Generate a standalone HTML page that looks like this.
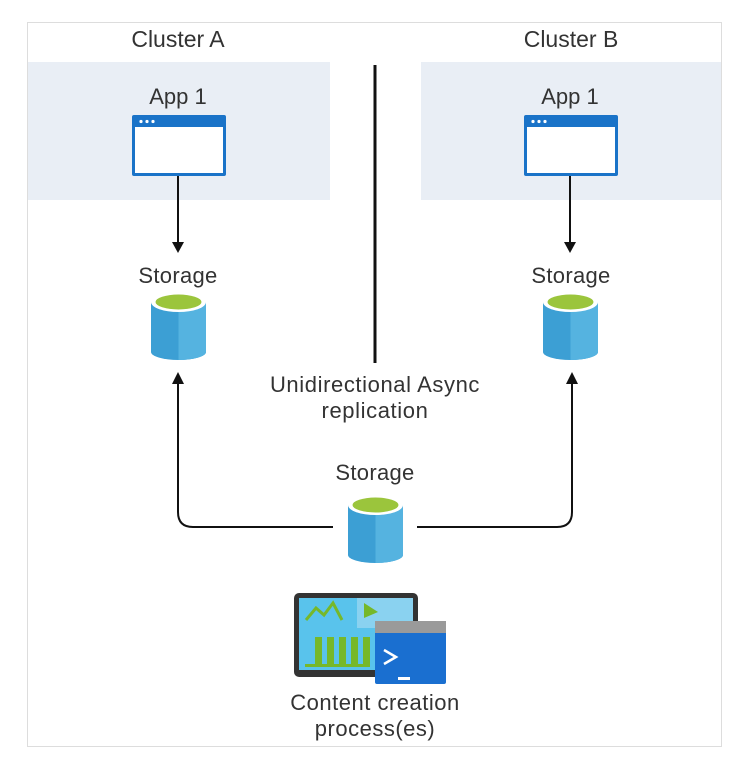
<!DOCTYPE html>
<html><head><style>
body{margin:0;background:#fff;width:750px;height:778px;overflow:hidden;font-family:"Liberation Sans",sans-serif;}
</style></head><body>
<svg width="750" height="778" viewBox="0 0 750 778" xmlns="http://www.w3.org/2000/svg" font-family="Liberation Sans, sans-serif" fill="#333">
<rect x="27.5" y="22.5" width="694" height="724" fill="#fff" stroke="#ddd"/>
<rect x="28" y="62" width="302" height="138" fill="#e9eef5"/>
<rect x="421" y="62" width="300" height="138" fill="#e9eef5"/>
<text x="178" y="47" font-size="23" text-anchor="middle">Cluster A</text>
<text x="571" y="47" font-size="23" text-anchor="middle">Cluster B</text>
<line x1="375" y1="65" x2="375" y2="363" stroke="#111" stroke-width="3"/>
<defs>
<g id="app">
<rect x="0" y="0" width="94" height="61" rx="2" fill="#1a73c8"/>
<rect x="3" y="12" width="88" height="46" fill="#fff"/>
<circle cx="9" cy="6.5" r="1.6" fill="#fff"/><circle cx="15" cy="6.5" r="1.6" fill="#fff"/><circle cx="21" cy="6.5" r="1.6" fill="#fff"/>
</g>
<g id="cyl">
<path d="M0 10 V60 A27.5 8 0 0 0 55 60 V10 Z" fill="#3c9fd4"/>
<path d="M27.5 18 V68 A27.5 8 0 0 0 55 60 V10 Z" fill="#55b3e0"/>
<ellipse cx="27.5" cy="10" rx="27.5" ry="10" fill="#fff"/>
<ellipse cx="27.5" cy="10" rx="23" ry="7.5" fill="#9bc53c"/>
</g>
</defs>
<text x="178" y="104" font-size="22" text-anchor="middle">App 1</text>
<text x="570" y="104" font-size="22" text-anchor="middle">App 1</text>
<use href="#app" x="132" y="115"/>
<use href="#app" x="524" y="115"/>
<line x1="178" y1="176" x2="178" y2="246" stroke="#111" stroke-width="2"/>
<path d="M172 242 L184 242 L178 253 Z" fill="#111"/>
<line x1="570" y1="176" x2="570" y2="246" stroke="#111" stroke-width="2"/>
<path d="M564 242 L576 242 L570 253 Z" fill="#111"/>
<text x="178" y="283" font-size="22" letter-spacing="0.3" text-anchor="middle">Storage</text>
<text x="571" y="283" font-size="22" letter-spacing="0.3" text-anchor="middle">Storage</text>
<use href="#cyl" x="151" y="292"/>
<use href="#cyl" x="543" y="292"/>
<text x="375" y="392" font-size="22" letter-spacing="0.6" text-anchor="middle">Unidirectional Async</text>
<text x="375" y="418" font-size="22" letter-spacing="0.6" text-anchor="middle">replication</text>
<text x="375" y="480" font-size="22" letter-spacing="0.3" text-anchor="middle">Storage</text>
<use href="#cyl" x="348" y="495"/>
<path d="M333 527 H193 Q178 527 178 512 V380" fill="none" stroke="#111" stroke-width="2"/>
<path d="M172 384 L184 384 L178 372 Z" fill="#111"/>
<path d="M417 527 H557 Q572 527 572 512 V380" fill="none" stroke="#111" stroke-width="2"/>
<path d="M566 384 L578 384 L572 372 Z" fill="#111"/>
<rect x="294" y="593" width="124" height="84" rx="5" fill="#333"/>
<rect x="299" y="598" width="114" height="72" fill="#59c3ec"/>
<rect x="357" y="598" width="56" height="30" fill="#8ad2f0"/>
<path d="M306 620 L316 608 L324 615 L333 603 L342 620" fill="none" stroke="#76b82a" stroke-width="3"/>
<g fill="#76b82a"><rect x="315" y="637" width="7" height="28"/><rect x="327" y="637" width="7" height="28"/><rect x="339" y="637" width="7" height="28"/><rect x="351" y="637" width="7" height="28"/><rect x="363" y="637" width="7" height="28"/><rect x="305" y="664" width="65" height="3"/><path d="M364 603 L378 612 L364 618 Z"/></g>
<rect x="375" y="621" width="71" height="63" rx="2" fill="#1a6fd0"/>
<rect x="375" y="621" width="71" height="12" fill="#9a9a9a"/>
<path d="M384 650 L396 657 L384 664" fill="none" stroke="#fff" stroke-width="2.5"/>
<rect x="398" y="677" width="12" height="3" fill="#fff"/>
<text x="375" y="710" font-size="22" letter-spacing="0.5" text-anchor="middle">Content creation</text>
<text x="375" y="736" font-size="22" letter-spacing="0.5" text-anchor="middle">process(es)</text>
</svg>
</body></html>
